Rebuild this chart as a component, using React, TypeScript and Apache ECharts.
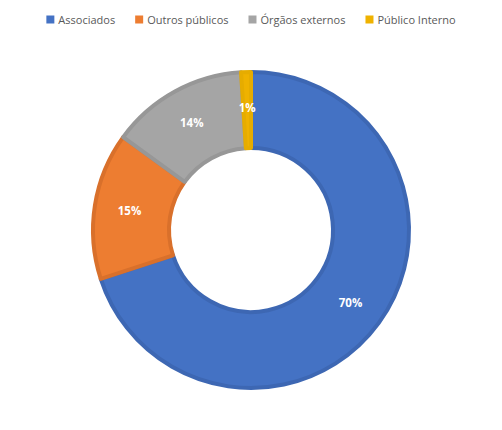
import React, { useEffect, useRef } from 'react';
import * as echarts from 'echarts';

const categories = ['Associados', 'Outros públicos', 'Órgãos externos', 'Público Interno'];
const values = [70, 15, 14, 1];
const fillColors = ['#4472C4', '#ED7D31', '#A5A5A5', '#EFB200'];
const borderColors = ['#3D67B3', '#D9702B', '#979797', '#E6AC00'];

const App: React.FC = () => {
  const chartRef = useRef<HTMLDivElement>(null);

  useEffect(() => {
    document.body.style.margin = '0';
    if (!chartRef.current) return;
    const chart = echarts.init(chartRef.current, undefined, { renderer: 'svg' });

    chart.setOption({
      animation: false,
      legend: {
        top: 9,
        left: 'center',
        itemWidth: 8,
        itemHeight: 8,
        itemGap: 20,
        icon: 'rect',
        textStyle: {
          fontFamily: 'Open Sans',
          fontSize: 11,
          color: '#595959',
          padding: [0, 0, 0, -1]
        },
        itemStyle: { borderWidth: 0 },
        data: categories
      },
      series: [
        {
          type: 'pie',
          center: [251, 230],
          radius: [82, 158],
          startAngle: 90,
          clockwise: true,
          label: {
            show: true,
            position: 'inside',
            formatter: '{d}%',
            color: '#ffffff',
            fontFamily: 'Open Sans',
            fontWeight: 'bold',
            fontSize: 11.5
          },
          labelLine: { show: false },
          emphasis: { disabled: true },
          data: categories.map((name, i) => ({
            name,
            value: values[i],
            itemStyle: {
              color: fillColors[i],
              borderColor: borderColors[i],
              borderWidth: 4
            }
          }))
        }
      ]
    });

    return () => {
      chart.dispose();
    };
  }, []);

  return <div ref={chartRef} style={{ width: 502, height: 430 }} />;
};

export default App;
